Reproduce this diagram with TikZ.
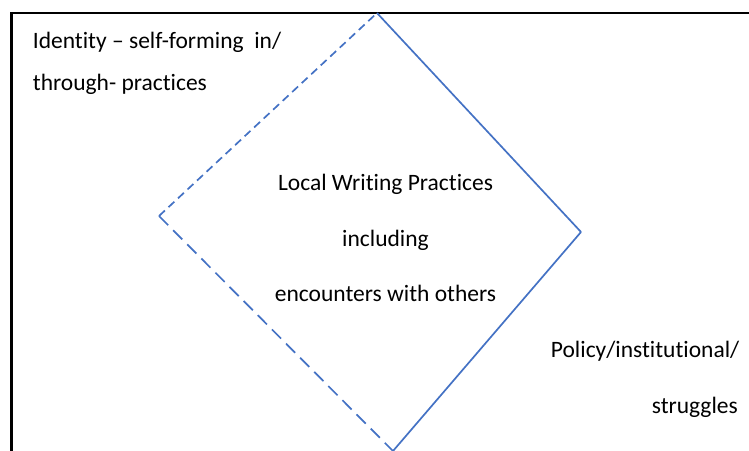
\documentclass[tikz,border=0pt]{standalone}
\usepackage{fontspec}
\setmainfont{Carlito}[Ligatures=NoCommon]
\usepackage{tikz, xcolor}

\definecolor{linkblue}{RGB}{68,114,196}

\tikzset{
  label text/.style={inner sep=0pt, font=\fontsize{23.5}{28}\selectfont},
  side/.style={color=linkblue, line width=1.7pt},
}

\begin{document}
\begin{tikzpicture}[x=1pt, y=-1pt]
    \clip (0, 0) rectangle (749, 450);

    % frame, runs off the page on the right and at the bottom
    \draw [line width=2.6pt] (11.5, 13) rectangle (780, 480);

    % corners of the diamond
    \coordinate (top) at (377, 13);
    \coordinate (right) at (581, 232);
    \coordinate (bottom) at (393, 451);
    \coordinate (left) at (159, 216);

    \draw [side] (top) to (right);
    \draw [side] (right) to (bottom);
    \draw [side, dash pattern=on 8pt off 5pt] (left) to (top);
    \draw [side, dash pattern=on 13pt off 7pt] (left) to (bottom);

    \node [label text, anchor=base west] (identity) at (32.7, 48) {Identity -- self-forming\ \ in/};
    \node [label text, anchor=base west] (through) at (32.7, 90) {through- practices};

    \node [label text, anchor=base] (local) at (385.5, 190.5) {Local Writing Practices};
    \node [label text, anchor=base] (including) at (385.5, 246) {including};
    \node [label text, anchor=base] (encounters) at (385.5, 301.5) {encounters with others};

    \node [label text, anchor=base east] (policy) at (739.5, 357) {Policy/institutional/};
    \node [label text, anchor=base east] (struggles) at (738, 413) {struggles};
\end{tikzpicture}
\end{document}
